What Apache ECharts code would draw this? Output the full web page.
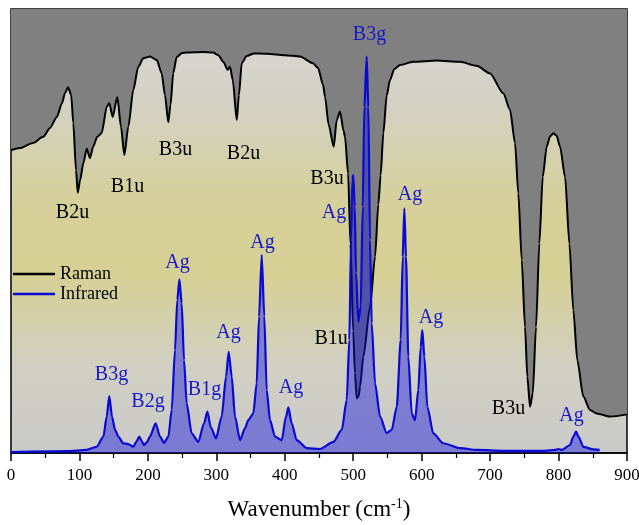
<!DOCTYPE html>
<html>
<head>
<meta charset="utf-8">
<script src="https://cdn.jsdelivr.net/npm/echarts@6/dist/echarts.min.js"></script>
<style>html,body{margin:0;padding:0;background:#fff}#c{width:639px;height:525px}</style>
</head>
<body>
<div id="c"></div>
<script>
// Raman (black) curve: wavenumber, relative value
const ramanX = [0,13,32,47,57,67,74.5,79,83.5,88,91,95,97.5,101,105.7,110.6,115.4,120,126,132.5,140,143.6,148.6,155.3,160.7,165.6,171.4,178.7,186,193.3,203,213,220,225,229.8,233,237.1,242.1,250,256.7,280,295.1,303,310.2,316.6,320,324,329.8,333,337.1,344.4,355,373.6,400,422.3,441.3,448.6,456,458.8,464,471.5,475.9,480.7,486,488,492.5,496,500,502.5,505.1,508,509.9,514.8,524.6,531.9,536.7,540,544,548.9,553.7,560,568.4,587.8,622,656,680.5,699.9,719.3,729.1,736.4,741.2,746.2,751,754.4,758.3,762.3,767.1,771.9,776.9,782.7,787.6,792.4,797,802.2,809.5,815.8,821.6,827.4,836.2,846,855.8,875.2,900];
const ramanY = [68.2,68.7,69.8,71.2,73.2,75.7,78.8,81.1,82.4,80.6,74.3,63.7,58.6,61.5,65.3,68.5,66.4,69.0,71.2,72.1,78.0,78.8,75.7,80.2,73.5,67.1,73.5,81.8,87.0,88.9,89.3,88.5,85.6,80.6,74.5,78.4,85.6,89.2,90.1,90.2,90.3,90.2,89.6,88.1,86.3,87.0,84.0,75.0,80.6,87.8,89.4,90.0,89.9,89.6,89.3,87.8,86.7,82.9,80.2,74.0,69.0,75.0,76.9,72.5,71.2,63.0,47.0,27.5,18.0,12.3,12.8,14.9,21.7,33.0,44.2,56.0,62.5,72.0,80.5,84.0,86.5,87.4,88.1,88.4,88.1,87.2,85.5,81.0,77.3,69.8,58.5,43.5,28.4,17.2,10.4,13.4,28.4,47.2,62.2,69.0,71.3,72.0,71.5,69.0,62.2,47.2,32.2,20.9,12.7,9.7,8.9,8.2,8.7];

// Infrared (blue) curve
const irX = [0,81,110.6,125,135,139.8,143.6,147.6,152,156.8,164,171.4,178.7,183,187.5,191,194.3,199,203,211.4,217.7,223.6,229.9,234.8,239.6,243,246,249.4,252.8,256.7,264,273.7,282,286.9,291.8,299.5,307.8,314.2,318,322.5,327.3,334.6,341.9,346.7,354,359,362.4,366.3,370.1,373.6,378.4,385.7,395.5,401.8,405.2,410.1,417.4,432,451.5,471,483.2,490.5,494.3,496.8,498.7,500.1,502.2,504.1,507.5,511,513.9,516.3,519.7,522.1,524.5,527,531.9,539.2,548.9,556.2,563.6,569.4,572.3,574.7,577.1,580.5,585.5,590.3,595.1,598.6,601,603.9,608.3,617,631.6,656,680.5,720,780,795,800,805,816.8,821.6,825.5,829,836.2,850.8,860];
const irY = [0.2,0.4,0.7,1.4,3.7,8.2,12.8,8.2,5.2,3.7,2.2,2.0,1.4,2.5,3.7,2.7,1.8,2.5,3.7,6.7,3.7,2.3,3.7,9.7,23.2,34.5,39.1,33.7,20.9,11.2,4.4,2.5,6.7,9.3,5.9,3.3,8.2,17.2,22.8,17.2,8.2,2.9,5.6,7.4,8.9,15.7,30.7,44.6,30.7,14.2,7.4,3.7,2.9,8.2,10.3,6.7,2.9,1.1,0.9,2.5,5.2,11.9,25.5,48.0,61.5,62.6,55.5,40.5,29.6,33.0,55.5,78.0,89.3,78.0,48.0,29.2,15.7,8.2,4.5,5.2,10.4,25.5,44.2,55.1,44.2,21.7,8.9,7.4,14.2,23.9,27.7,21.7,10.4,4.4,2.2,1.1,0.7,0.5,0.5,0.7,0.9,0.7,1.8,3.7,4.8,3.7,1.4,0.8,0.7];

// Peak annotations: text, wavenumber, height
const ramanLabels = [['B2u',89.9,54.1],['B1u',170.2,60.0],['B3u',240.4,68.2],['B2u',339.7,67.5],['B3u',461.7,61.7],['B1u',467.6,25.7],['B3u',726.9,10.0]];
const irLabels = [['B3g',146.8,17.7],['B2g',200.2,11.6],['Ag',243.3,42.8],['B1g',282.7,14.2],['Ag',317.8,27.0],['Ag',367.5,47.3],['Ag',409.1,14.6],['Ag',472,54.1],['B3g',523.8,94.1],['Ag',583,58.1],['Ag',613.7,30.4],['Ag',819,8.3]];

const xTicks = [0,100,200,300,400,500,600,700,800,900];

const serif = 'Liberation Serif';
const chart = echarts.init(document.getElementById('c'), null, {renderer:'canvas'});
const zip = (xs, ys) => xs.map((x,i)=>[x, ys[i]]);
const lab = (arr) => arr.map(a=>({name:a[0], value:[a[1],a[2]]}));
const labelStyle = (color) => ({show:true, position:'inside', formatter:'{b}', fontFamily:serif, fontSize:20,
  color:color, textBorderWidth:0, opacity:1});

chart.setOption({
  animation:false,
  backgroundColor:'#ffffff',
  grid:{left:11, right:12, top:9, bottom:72, outerBoundsMode:'none', containLabel:false,
    show:true, borderColor:'#000', borderWidth:1.5,
    backgroundColor:{type:'linear',x:0,y:0,x2:0,y2:1,colorStops:[
      {offset:0,color:'#d9d9d9'},{offset:0.2,color:'#d3d2c6'},{offset:0.45,color:'#d6d098'},
      {offset:0.6,color:'#d6d095'},{offset:0.8,color:'#d1d0c2'},{offset:1,color:'#cacaca'}]}},
  legend:{left:13, top:265, padding:0, orient:'vertical', itemWidth:42, itemHeight:2.5, itemGap:2, icon:'rect',
    textStyle:{fontFamily:serif, fontSize:18, color:'#000'}, data:['Raman','Infrared']},
  xAxis:{type:'value', min:xTicks[0], max:xTicks[xTicks.length-1], interval:100,
    axisLine:{show:true, lineStyle:{color:'#000', width:1.5}},
    axisTick:{show:true, length:8, lineStyle:{color:'#000', width:1.5}},
    minorTick:{show:true, splitNumber:2, length:5, lineStyle:{color:'#000', width:1.2}},
    splitLine:{show:false},
    axisLabel:{fontFamily:serif, fontSize:17, color:'#000', margin:14},
    name:'Wavenumber (cm{sup|-1})', nameLocation:'middle', nameGap:57,
    nameTextStyle:{fontFamily:serif, fontSize:23, color:'#000', verticalAlign:'middle',
      rich:{sup:{fontFamily:serif, fontSize:14, color:'#000', verticalAlign:'top', padding:[0,0,12,0]}}}},
  yAxis:{type:'value', min:0, max:100, show:true, axisLine:{show:false}, axisTick:{show:false},
    axisLabel:{show:false}, splitLine:{show:false}},
  series:[
    {name:'Raman', type:'line', data:zip(ramanX, ramanY), showSymbol:false, smooth:0.25, smoothMonotone:'x',
      lineStyle:{color:'#000', width:2}, itemStyle:{color:'#000'},
      areaStyle:{origin:'end', color:'#808080', opacity:1}, z:2},
    {name:'Infrared', type:'line', data:zip(irX, irY), showSymbol:false, smooth:0.25, smoothMonotone:'x',
      lineStyle:{color:'#0a0ad0', width:2.2}, itemStyle:{color:'#0a0ad0'},
      areaStyle:{origin:'start', color:'rgba(20,20,225,0.62)'}, z:3},
    {type:'scatter', data:lab(ramanLabels), symbolSize:0, itemStyle:{color:'#000'}, silent:true, z:5,
      label:labelStyle('#000')},
    {type:'scatter', data:lab(irLabels), symbolSize:0, itemStyle:{color:'#1818c8'}, silent:true, z:5,
      label:labelStyle('#1818c8')}
  ]
});
</script>
</body>
</html>
